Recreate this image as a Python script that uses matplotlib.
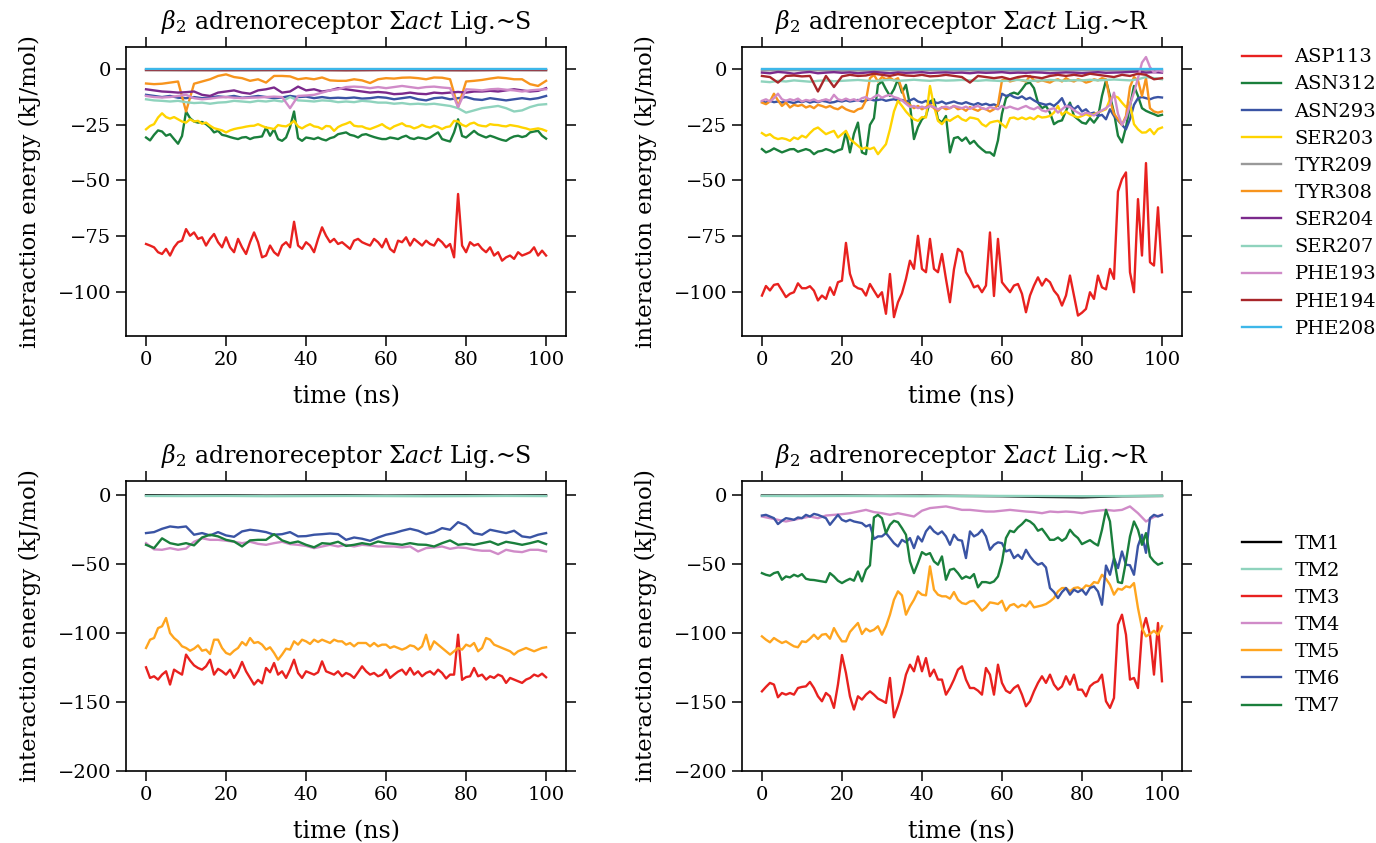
import matplotlib
matplotlib.use("Agg")
import matplotlib.pyplot as plt
import numpy as np

plt.rcParams['font.family'] = ['DejaVu Serif']
plt.rcParams['mathtext.fontset'] = 'dejavuserif'

# sampling grids (ns)
time_1ns = np.arange(0, 101, 1)
time_2ns = np.arange(0, 101, 2)
time_10ns = np.arange(0, 101, 10)

residues = ["ASP113", "ASN312", "ASN293", "SER203", "TYR209", "TYR308",
            "SER204", "SER207", "PHE193", "PHE194", "PHE208"]
residue_colors = ["#e8211f", "#1a7f3c", "#3a54a4", "#ffd400", "#999999", "#f7941d",
                  "#7b2a8c", "#8fd3bd", "#d08bc8", "#a8262a", "#3db7e9"]

helices = ["TM1", "TM2", "TM3", "TM4", "TM5", "TM6", "TM7"]
helix_colors = ["#000000", "#8fd3bd", "#e8211f", "#d08bc8", "#ffa51f", "#3a54a4", "#1a7f3c"]

# ---- ligand S, per residue (kJ/mol) ----
s_asp113 = [-78.6, -79.3, -80.1, -82.3, -83.1, -80.8, -83.8, -80.1, -77.8, -77.1,
            -71.9, -74.9, -73.4, -76.3, -75.6, -79.3, -76.3, -74.1, -77.8, -80.1,
            -75.6, -80.1, -82.3, -76.3, -80.1, -83.1, -77.8, -73.4, -77.8, -84.6,
            -83.8, -79.3, -82.3, -83.8, -79.3, -77.8, -80.1, -68.6, -79.3, -80.8,
            -77.8, -79.3, -82.3, -76.3, -71.1, -74.9, -77.8, -76.3, -78.6, -77.8,
            -79.3, -80.8, -77.1, -76.3, -77.8, -78.6, -79.3, -76.3, -77.8, -80.1,
            -76.3, -80.8, -82.3, -77.1, -77.8, -75.6, -79.3, -76.3, -77.8, -79.3,
            -77.1, -78.6, -79.3, -76.3, -77.8, -80.1, -78.6, -84.6, -56.1, -79.3,
            -82.3, -77.8, -79.3, -78.6, -80.8, -82.3, -80.1, -83.8, -82.3, -86.1,
            -84.6, -83.8, -85.3, -82.3, -83.8, -83.1, -82.3, -80.1, -83.8, -81.6,
            -83.8]
s_asn312 = [-30.7, -32.0, -29.5, -27.5, -28.0, -29.9, -29.2, -31.4, -33.5, -30.0,
            -19.0, -22.0, -23.5, -24.0, -23.7, -24.7, -26.2, -28.4, -27.7, -29.5,
            -29.9, -30.5, -31.0, -31.4, -30.7, -30.5, -31.4, -30.7, -30.5, -30.2,
            -26.2, -29.9, -27.0, -31.4, -32.2, -30.7, -26.0, -19.0, -31.0, -32.2,
            -30.7, -31.0, -31.4, -30.7, -31.5, -32.0, -31.0, -30.5, -29.2, -28.8,
            -28.4, -29.5, -29.9, -30.7, -29.5, -29.2, -29.9, -30.5, -31.0, -31.4,
            -31.4, -30.7, -31.0, -31.4, -30.5, -29.9, -31.0, -31.4, -30.7, -31.0,
            -31.4, -30.7, -29.5, -28.4, -31.4, -32.0, -32.5, -28.4, -22.5, -30.0,
            -30.7, -29.2, -27.7, -29.2, -30.0, -30.7, -29.9, -30.5, -31.2, -31.8,
            -32.2, -31.0, -30.2, -29.9, -30.5, -30.0, -28.4, -28.0, -27.7, -29.9,
            -31.2]
s_asn293 = [-11.5, -12.0, -12.5, -12.0, -12.8, -13.0, -12.5, -13.0, -12.7, -12.2,
            -12.5, -12.0, -12.8, -12.5, -12.0, -12.5, -13.0, -12.7, -12.0, -12.5,
            -12.3, -13.0, -12.5, -13.0, -12.8,
            -13.0, -12.7, -13.2, -13.0, -12.5, -12.8, -13.5, -13.0, -12.5, -13.5,
            -14.0, -13.0, -12.7, -13.5, -13.0, -12.5, -13.5, -13.8, -13.0, -13.5,
            -14.0, -13.5, -13.0, -13.5, -13.0, -12.0]
s_ser203 = [-27.0, -25.5, -24.7, -21.7, -19.8, -21.5, -22.2, -21.5, -22.5, -23.5,
            -24.0, -22.5, -23.5, -23.2, -24.5, -24.0, -25.4, -26.5, -27.0, -27.5,
            -28.4, -27.5, -26.9, -26.5, -26.2, -25.8, -25.5, -25.4, -24.7, -25.5,
            -26.2, -26.5, -26.9, -25.1, -25.5, -25.7, -24.7, -23.2, -25.7, -26.6,
            -25.5, -24.7, -25.7, -26.0, -26.9, -25.5, -25.7, -27.7, -26.0, -25.1,
            -24.5, -23.7, -25.4, -25.7, -25.7, -26.5, -26.9, -26.2, -25.5, -24.7,
            -26.0, -26.9, -25.7, -25.0, -24.3, -25.5, -25.7, -26.6, -26.0, -25.0,
            -25.8, -26.2, -25.4, -26.0, -26.9, -26.0, -25.7, -23.2, -23.5, -25.0,
            -25.7, -24.5, -24.0, -25.1, -25.5, -25.7, -24.7, -25.0, -25.1, -25.5,
            -25.7, -25.1, -25.4, -25.7, -26.2, -26.6, -27.2, -26.9, -26.6, -27.0,
            -27.7]
s_tyr209 = [-0.4, -0.5, -0.4, -0.5, -0.4, -0.5, -0.4, -0.5, -0.5, -0.4, -0.5]
s_tyr308 = [-6.4, -6.7, -6.5, -6.0, -5.5, -19.0, -6.5, -5.5, -4.5, -3.0,
            -2.3, -3.5, -4.0, -5.2, -4.5, -6.0, -3.0, -3.0, -3.2, -4.5,
            -4.0, -4.5, -3.7, -5.0, -5.2,
            -5.2, -4.5, -5.0, -6.2, -4.5, -4.0, -4.2, -3.8, -3.7, -4.0,
            -4.5, -3.7, -3.8, -4.5, -17.0, -5.5, -5.2, -4.8, -4.2, -3.7,
            -4.0, -4.5, -4.5, -6.7, -7.5, -5.2]
s_ser204 = [-9.0, -9.5, -10.0, -10.2, -10.5, -10.3, -10.0, -11.5, -12.0, -10.5,
            -10.0, -9.5, -10.5, -11.0, -9.5, -9.0, -8.2, -10.5, -10.0, -7.8,
            -9.5, -9.0, -10.0, -9.5, -8.5,
            -9.0, -9.5, -10.0, -10.5, -10.2, -10.5, -11.2, -11.0, -10.5, -11.0,
            -11.2, -10.5, -10.8, -10.5, -10.2, -10.5, -10.0, -10.0, -9.7, -10.0,
            -9.5, -9.0, -9.5, -10.0, -9.7, -8.5]
s_ser207 = [-13.5, -14.0, -14.2, -14.5, -14.2, -14.8, -15.2, -15.0, -15.5, -15.0,
            -14.8, -14.2, -14.5, -14.8, -14.2, -14.5, -14.0, -14.5, -12.5, -14.0,
            -14.2, -14.5, -14.0, -14.2, -14.8,
            -14.5, -14.8, -14.2, -14.5, -15.0, -15.0, -15.5, -15.2, -15.7, -15.5,
            -15.8, -15.5, -16.0, -16.5, -17.5, -19.5, -18.5, -17.5, -17.0, -16.5,
            -17.5, -19.0, -18.5, -17.0, -16.0, -15.7]
s_phe193 = [-12.0, -12.5, -12.7, -12.5, -12.0, -11.5, -13.0, -13.5, -13.2, -12.7,
            -12.5, -12.8, -13.0, -12.8, -12.7, -12.5, -12.3, -12.5, -17.5, -12.0,
            -11.8, -11.5, -10.5, -9.5, -9.0,
            -8.0, -7.8, -8.0, -8.5, -8.0, -8.5, -8.0, -7.5, -8.0, -8.5,
            -8.0, -7.8, -8.2, -8.5, -17.0, -9.0, -9.2, -9.5, -9.0, -8.8,
            -9.2, -9.5, -10.0, -9.5, -9.2, -9.0]
s_phe194 = [-0.3, -0.3, -0.4, -0.3, -0.3, -0.4, -0.3, -0.3, -0.4, -0.3, -0.3]
s_phe208 = [0.0, 0.0, 0.0, 0.0, 0.0, 0.0, 0.0, 0.0, 0.0, 0.0, 0.0]

# ---- ligand R, per residue (kJ/mol) ----
r_asp113 = [-101.8, -97.5, -99.5, -97.0, -96.6, -99.5, -102.5, -101.0, -100.3, -96.3,
            -98.5, -98.5, -97.6, -99.6, -104.0, -101.8, -103.3, -98.1, -101.5, -95.8,
            -95.1, -78.1, -92.0, -97.3, -98.5, -99.0, -101.8, -96.6, -99.6, -102.5,
            -100.3, -110.0, -92.1, -111.5, -104.8, -100.8, -94.3, -86.1, -89.8, -74.9,
            -89.8, -91.3, -76.3, -89.8, -91.3, -83.1, -94.3, -104.8, -90.0, -80.8,
            -82.3, -91.3, -94.3, -98.1, -97.3, -100.3, -97.3, -73.4, -102.0, -76.3,
            -95.8, -98.1, -100.3, -97.3, -96.6, -101.0, -109.3, -101.8, -97.3, -93.6,
            -97.3, -94.3, -95.8, -99.6, -101.8, -106.3, -101.8, -92.8, -101.8, -110.8,
            -109.5, -107.8, -100.3, -103.3, -92.8, -98.1, -99.0, -89.8, -94.3, -55.0,
            -49.4, -46.4, -91.3, -100.3, -58.4, -83.8, -42.2, -86.8, -88.3, -62.1,
            -91.3]
r_asn312 = [-35.9, -37.4, -36.7, -35.6, -36.5, -37.4, -36.7, -36.0, -35.9, -37.1,
            -36.5, -35.9, -36.5, -38.2, -37.0, -36.7, -35.9, -36.5, -37.4, -36.5,
            -35.9, -28.0, -37.4, -29.0, -24.0, -37.4, -38.2, -25.0, -22.0, -7.0,
            -5.5, -9.0, -12.0, -9.0, -4.5, -10.5, -7.0, -16.0, -31.4, -26.0,
            -22.5, -21.0, -14.5, -13.5, -22.5, -24.0, -21.0, -37.4, -31.0, -30.5,
            -32.2, -30.7, -33.5, -32.2, -34.4, -36.0, -37.4, -37.4, -38.9, -32.0,
            -20.0, -13.0, -11.2, -10.5, -11.2, -9.0, -6.5, -6.0, -8.5, -15.0,
            -17.5, -16.5, -19.5, -24.7, -23.5, -23.0, -18.7, -15.0, -21.0, -22.5,
            -24.0, -24.5, -22.0, -24.0, -21.5, -12.0, -5.0, -12.0, -19.5, -29.9,
            -32.9, -26.0, -16.5, -7.5, -12.0, -17.5, -18.7, -19.5, -20.2, -21.0,
            -20.5]
r_asn293 = [-14.5, -15.0, -14.2, -14.8, -14.5, -15.0, -14.2, -14.8, -15.2, -14.5,
            -14.8, -14.2, -15.0, -14.5, -14.8, -14.2, -14.5, -15.0, -14.8, -14.2,
            -14.5, -14.0, -14.5, -14.2, -13.8, -14.5, -14.0, -13.5, -14.0, -13.8,
            -13.5, -14.2, -13.8, -13.5, -14.0, -13.8, -14.5, -14.0, -13.2, -14.5,
            -15.0, -14.2, -15.5, -14.8, -15.2, -14.5, -15.5, -15.0, -14.5, -15.2,
            -15.5, -14.8, -15.5, -16.0, -15.2, -16.0, -15.5, -16.2, -15.8, -16.5,
            -11.0, -12.0, -11.5, -12.5, -13.0, -12.2, -13.5, -12.8, -14.0, -15.0,
            -15.5, -16.0, -15.5, -16.5, -15.0, -13.0, -17.0, -16.0, -18.0, -16.5,
            -19.0, -18.0, -20.0, -19.5, -21.0, -20.5, -22.5, -18.0, -21.0, -23.0,
            -25.0, -27.0, -22.5, -16.0, -13.0, -12.5, -13.0, -13.5, -12.8, -12.5,
            -12.7]
r_ser203 = [-28.7, -29.9, -29.2, -30.7, -31.4, -31.0, -31.4, -32.2, -30.7, -31.4,
            -29.9, -30.7, -28.7, -27.0, -26.2, -27.7, -29.2, -28.4, -27.7, -30.7,
            -29.2, -27.7, -31.4, -32.9, -34.4, -35.9, -35.2, -35.9, -35.2, -38.2,
            -35.9, -33.7, -27.0, -19.0, -14.2, -16.5, -19.0, -21.0, -22.5, -23.2,
            -21.5, -21.7, -7.5, -16.5, -23.2, -24.7, -22.5, -23.2, -22.0, -21.0,
            -22.5, -23.2, -21.7, -22.0, -22.5, -24.7, -25.7, -24.0, -23.5, -23.2,
            -24.7, -26.2, -22.0, -21.7, -22.5, -21.7, -22.5, -21.7, -22.5, -21.0,
            -21.7, -21.5, -21.0, -19.5, -16.5, -20.5, -19.0, -20.2, -21.0, -21.7,
            -21.0, -20.2, -21.0, -20.2, -19.5, -18.7, -18.0, -13.5, -12.0, -12.7,
            -15.0, -17.0, -15.5, -24.7, -27.0, -28.5, -28.4, -26.9, -29.2, -26.9,
            -26.2]
r_tyr209 = [-0.5, -0.4, -0.6, -0.5, -0.4, -0.5, -0.6, -0.5, -0.4, -0.5, -0.5]
r_tyr308 = [-15.0, -15.7, -14.5, -11.0, -14.0, -16.5, -15.0, -17.2, -16.0, -16.5,
            -16.0, -17.2, -16.5, -17.5, -16.0, -16.5, -17.2, -16.5, -17.5, -18.0,
            -16.8, -18.0, -18.7, -19.2, -18.0, -17.5, -14.0, -4.0, -2.5, -5.5,
            -3.5, -4.5, -3.8, -5.0, -4.0, -9.0, -15.0, -16.0, -17.5, -16.5,
            -18.0, -17.0, -16.0, -17.5, -18.7, -17.0, -18.0, -17.5, -16.5, -18.0,
            -17.5, -18.7, -17.0, -18.0, -18.7, -17.5, -18.0, -19.0, -18.0, -16.0,
            -5.0, -4.5, -5.5, -5.0, -4.5, -5.0, -5.5, -3.0, -5.0, -5.5,
            -5.0, -5.5, -6.0, -5.0, -4.5, -5.5, -4.0, -5.0, -5.5, -4.5,
            -5.0, -6.0, -5.5, -4.5, -5.0, -4.0, -4.5, -14.0, -20.0, -22.5,
            -25.0, -21.0, -8.0, -3.5, -5.0, -12.0, -4.0, -17.5, -19.0, -19.5,
            -19.0]
r_ser204 = [-1.5, -1.8, -1.2, -1.5, -2.0, -1.5, -1.2, -1.8, -1.5, -1.3,
            -1.6, -1.4, -1.8, -1.5, -1.2, -1.5, -1.8, -1.4, -1.6, -1.5,
            -1.3, -1.7, -1.5, -1.4, -1.6,
            -1.5, -1.8, -1.4, -1.6, -1.5, -1.3, -1.7, -1.5, -1.6, -1.4,
            -1.5, -1.8, -1.6, -1.4, -1.5, -1.7, -1.5, -1.3, -1.6, -1.5,
            -1.4, -1.2, -1.0, -1.5, -1.3, -1.5]
r_ser207 = [-5.5, -5.8, -5.2, -5.5, -5.0, -5.3, -5.6, -5.2, -5.0, -5.4,
            -5.2, -5.0, -4.8, -5.1, -5.3, -5.0, -4.8, -5.2, -5.0, -4.7,
            -5.0, -5.2, -4.9, -5.1, -5.0,
            -4.8, -5.0, -5.2, -4.9, -5.1, -5.3, -5.0, -4.8, -5.1, -5.2,
            -5.0, -4.8, -5.0, -5.2, -4.9, -5.0, -4.7, -5.0, -4.8, -4.6,
            -4.8, -5.0, -4.5, -3.5, -4.0, -4.5]
r_phe193 = [-14.2, -13.5, -14.5, -13.0, -11.0, -13.5, -14.2, -13.5, -14.0, -13.2,
            -14.5, -13.8, -14.2, -13.5, -14.5, -14.0, -13.5, -14.2, -11.5, -13.5,
            -14.0, -13.2, -14.0, -13.5, -14.2, -13.0, -12.5, -13.8, -12.5, -11.5,
            -12.8, -12.0, -11.5, -12.5, -13.0, -14.0, -15.5, -17.0, -16.5, -17.5,
            -16.8, -17.5, -16.5, -17.0, -18.0, -17.2, -16.8, -17.5, -16.5, -17.0,
            -17.5, -16.8, -17.8, -17.0, -16.5, -17.5, -18.0, -17.0, -17.5, -18.0,
            -16.5, -17.5, -16.8, -17.5, -18.0, -17.2, -16.5, -17.5, -18.0, -17.0,
            -18.5, -19.0, -18.0, -17.5, -19.5, -18.0, -16.5, -17.0, -18.5, -19.5,
            -20.5, -19.5, -20.0, -20.8, -19.5, -18.5, -17.5, -16.0, -10.5, -20.0,
            -25.0, -22.0, -16.0, -10.5, -4.0, 3.0, 5.5, 1.0, -1.5, -0.5,
            -1.0]
r_phe194 = [-3.0, -3.5, -6.0, -3.0, -2.8, -3.2, -3.0, -10.0, -3.0, -8.0,
            -3.2, -2.5, -3.0, -2.8, -2.0, -2.5, -3.0, -2.2, -2.8, -3.0,
            -2.5, -3.2, -3.0, -2.5, -3.0,
            -3.5, -6.0, -3.0, -3.5, -4.0, -3.5, -4.5, -3.5, -3.0, -3.5,
            -4.0, -3.0, -2.5, -3.0, -2.5, -3.0, -2.0, -2.5, -3.0, -3.5,
            -2.5, -3.0, -2.0, -2.5, -4.5, -4.0]
r_phe208 = [0.0, 0.0, 0.0, 0.0, 0.0, 0.0, 0.0, 0.0, 0.0, 0.0, 0.0]

# ---- ligand S, per helix (kJ/mol) ----
s_tm1 = [-0.3, -0.5, -0.4, -0.6, -0.5, -0.4, -0.6, -0.5, -0.4, -0.5, -0.4]
s_tm2 = [-0.8, -0.9, -0.8, -1.0, -0.9, -0.8, -0.9, -1.0, -0.9, -0.8, -0.9]
s_tm3 = [-124.9, -132.6, -131.4, -133.8, -130.2, -127.8, -137.4, -126.6, -128.5, -130.2,
         -115.7, -120.0, -123.5, -125.4, -126.6, -124.2, -119.4, -130.2, -126.0, -127.8,
         -130.2, -126.6, -132.6, -128.0, -121.0, -127.8, -132.6, -137.4, -134.0, -136.5,
         -125.4, -128.5, -121.8, -130.2, -127.8, -132.6, -126.6, -119.4, -129.0, -132.6,
         -127.8, -129.0, -130.2, -128.5, -120.6, -127.8, -129.0, -130.2, -127.8, -131.4,
         -129.0, -130.2, -132.6, -128.5, -124.2, -127.8, -130.2, -129.0, -131.4, -130.2,
         -126.6, -132.6, -130.2, -128.0, -126.6, -130.2, -125.4, -130.2, -127.8, -131.4,
         -129.0, -127.8, -130.2, -126.6, -129.0, -133.0, -130.2, -130.2, -101.3, -134.0,
         -132.0, -131.4, -125.4, -131.4, -130.2, -133.8, -131.4, -132.6, -130.2, -131.4,
         -136.2, -132.6, -133.8, -135.0, -136.2, -133.8, -132.6, -130.2, -131.4, -129.5,
         -132.1]
s_tm4 = [-35.0, -39.5, -39.8, -38.6, -39.8, -38.9, -34.0, -31.5, -32.6, -32.6,
         -33.2, -34.0, -35.0, -34.0, -35.5, -36.2, -35.0, -34.0, -35.7, -36.2,
         -37.0, -38.6, -37.4, -36.2, -37.4,
         -36.2, -37.4, -36.2, -36.7, -37.4, -37.4, -37.4, -38.1, -37.4, -41.0,
         -38.6, -38.1, -37.4, -39.1, -38.1, -38.5, -39.8, -40.5, -40.5, -42.9,
         -39.8, -41.0, -41.5, -39.8, -39.8, -41.0]
s_tm5 = [-110.9, -104.9, -103.7, -96.5, -95.2, -89.2, -100.1, -103.7, -106.1, -109.7,
         -110.9, -112.9, -111.4, -109.0, -112.9, -112.1, -115.3, -104.9, -104.9, -110.9,
         -114.5, -115.7, -112.9, -110.9, -106.6, -109.0, -103.7, -107.3, -106.6, -108.5,
         -112.1, -110.4, -114.5, -119.4, -115.7, -111.4, -112.1, -106.1, -108.5, -104.9,
         -106.1, -108.0, -104.9, -106.6, -104.9, -106.1, -107.3, -104.9, -106.1, -106.1,
         -108.5, -107.3, -109.7, -107.3, -107.3, -107.3, -109.7, -107.3, -109.7, -108.5,
         -108.5, -110.9, -109.7, -110.9, -112.1, -110.9, -109.0, -109.7, -112.1, -109.7,
         -101.3, -112.1, -106.1, -108.5, -110.9, -113.3, -115.7, -113.3, -110.9, -112.1,
         -108.5, -109.7, -107.3, -113.3, -110.9, -103.7, -104.9, -108.5, -109.7, -110.9,
         -112.1, -113.3, -115.7, -113.3, -112.1, -110.9, -112.1, -113.3, -112.1, -110.9,
         -110.4]
s_tm6 = [-27.7, -27.0, -24.6, -22.9, -23.6, -22.9, -28.9, -27.7, -29.4, -27.0,
         -29.4, -30.4, -26.5, -25.3, -26.0, -27.0, -28.9, -28.5, -27.0, -30.1,
         -29.9, -28.9, -28.5, -28.0, -28.5,
         -32.6, -30.9, -31.8, -33.3, -30.9, -28.9, -27.7, -26.0, -24.6, -26.0,
         -28.5, -27.0, -24.1, -25.3, -19.8, -22.2, -27.7, -28.9, -25.3, -26.5,
         -27.7, -26.0, -30.1, -30.9, -28.9, -27.7]
s_tm7 = [-36.2, -38.6, -31.5, -35.0, -36.2, -35.0, -36.6, -30.9, -28.9, -30.1,
         -32.6, -33.8, -37.4, -33.0, -32.6, -32.6, -28.5, -33.0, -35.0, -33.8,
         -36.2, -38.0, -35.0, -35.5, -34.0,
         -37.0, -36.2, -35.0, -36.0, -33.8, -35.0, -35.5, -36.2, -35.0, -36.0,
         -36.2, -37.4, -35.0, -33.0, -36.2, -35.5, -36.2, -35.0, -33.8, -36.2,
         -34.0, -35.0, -36.2, -35.0, -33.5, -35.7]

# ---- ligand R, per helix (kJ/mol) ----
r_tm1 = [-0.5, -0.6, -0.5, -0.7, -0.6, -0.8, -1.0, -1.5, -1.8, -1.0, -0.8]
r_tm2 = [-0.8, -0.9, -0.8, -0.9, -1.0, -0.9, -0.8, -0.9, -1.0, -0.9, -0.8]
r_tm3 = [-142.3, -139.1, -136.2, -137.4, -146.6, -143.5, -144.7, -143.5, -144.7, -139.9,
         -139.1, -138.7, -135.5, -139.9, -145.9, -149.5, -143.5, -145.9, -154.3, -137.4,
         -116.0, -129.0, -145.9, -155.5, -145.9, -148.3, -144.7, -142.3, -144.7, -147.6,
         -149.0, -150.7, -132.6, -161.1, -153.1, -143.5, -130.2, -123.0, -127.8, -117.0,
         -127.8, -118.2, -131.4, -126.6, -133.8, -133.8, -144.7, -139.9, -133.8, -126.6,
         -124.2, -133.8, -139.9, -139.9, -141.8, -144.7, -125.4, -130.2, -144.7, -123.0,
         -136.2, -141.8, -143.5, -139.9, -137.9, -144.7, -153.1, -149.5, -142.3, -136.2,
         -131.4, -136.2, -130.2, -137.4, -141.1, -138.7, -131.4, -137.4, -130.2, -141.1,
         -141.1, -145.9, -138.7, -136.2, -135.0, -130.2, -149.5, -154.3, -147.1, -94.0,
         -86.8, -101.3, -133.8, -132.6, -139.9, -98.9, -89.2, -101.3, -130.2, -92.8,
         -135.0]
r_tm4 = [-15.7, -16.9, -18.1, -19.3, -18.1, -16.9, -15.7, -16.9, -15.0, -14.5,
         -14.0, -13.3, -12.1, -10.9, -12.5, -13.3, -14.5, -13.3, -14.5, -15.7,
         -11.5, -9.6, -9.0, -8.4, -9.6,
         -10.9, -10.9, -11.5, -12.1, -12.1, -11.5, -10.9, -11.5, -12.1, -12.5,
         -13.3, -12.1, -12.5, -12.1, -12.5, -13.3, -12.1, -11.5, -10.9, -11.5,
         -10.9, -8.4, -13.3, -19.3, -16.0, -14.5]
r_tm5 = [-102.5, -104.9, -106.8, -103.7, -105.6, -107.3, -106.1, -108.0, -109.7, -110.4,
         -106.1, -106.6, -104.2, -101.3, -104.4, -101.3, -100.8, -104.2, -96.5, -101.8,
         -106.1, -106.1, -99.3, -96.0, -92.8, -100.8, -96.9, -98.9, -97.7, -95.2,
         -101.3, -95.2, -86.8, -76.0, -69.9, -72.8, -86.8, -80.8, -76.0, -69.9,
         -72.3, -72.8, -51.8, -68.7, -72.3, -73.5, -73.5, -75.2, -70.4, -76.0,
         -78.4, -79.1, -77.2, -76.7, -80.1, -83.9, -81.5, -77.9, -78.4, -79.1,
         -76.7, -83.9, -80.1, -79.1, -81.5, -79.6, -80.8, -77.2, -81.5, -80.8,
         -80.1, -79.1, -77.2, -74.8, -69.9, -67.5, -67.5, -69.9, -67.5, -67.0,
         -68.7, -65.6, -66.3, -63.2, -63.9, -57.9, -60.8, -65.1, -72.3, -68.0,
         -68.7, -66.3, -67.0, -63.9, -82.0, -96.5, -102.5, -100.8, -98.4, -101.3,
         -95.2]
r_tm6 = [-15.0, -14.5, -15.7, -16.9, -21.2, -18.8, -16.9, -17.4, -18.1, -16.4,
         -16.9, -14.5, -15.7, -13.8, -14.5, -15.7, -16.9, -21.7, -18.1, -14.5,
         -18.1, -19.3, -18.1, -19.3, -19.9, -20.5, -22.9, -21.7, -32.0, -30.1,
         -30.1, -27.7, -31.3, -35.0, -37.4, -32.6, -34.4, -31.3, -38.6, -30.1,
         -33.8, -26.5, -22.9, -26.5, -28.5, -26.5, -30.1, -36.2, -28.9, -32.6,
         -33.2, -45.8, -26.5, -30.1, -28.5, -25.3, -30.1, -39.8, -36.2, -34.4,
         -35.0, -41.0, -39.8, -45.8, -43.4, -46.4, -39.8, -44.6, -48.2, -50.6,
         -49.4, -52.6, -67.5, -70.4, -74.8, -70.4, -67.5, -72.3, -68.7, -70.4,
         -68.7, -72.3, -67.5, -66.3, -70.0, -79.6, -51.2, -57.9, -45.8, -53.1,
         -41.0, -50.6, -51.0, -57.9, -37.0, -28.9, -42.0, -16.9, -14.5, -15.7,
         -14.5]
r_tm7 = [-56.7, -57.9, -58.6, -56.7, -55.9, -61.5, -59.1, -59.8, -57.9, -59.1,
         -57.4, -60.8, -61.5, -61.7, -62.2, -62.7, -63.2, -56.7, -59.1, -62.2,
         -63.9, -62.2, -60.8, -62.2, -55.5, -62.7, -54.3, -51.1, -16.4, -14.5,
         -16.9, -27.7, -21.7, -18.8, -19.8, -24.1, -28.9, -48.2, -56.7, -49.4,
         -41.5, -43.4, -42.2, -48.2, -50.6, -44.6, -61.5, -54.3, -53.5, -56.7,
         -60.8, -59.1, -60.3, -57.4, -67.0, -63.2, -63.2, -63.9, -62.7, -59.1,
         -48.7, -31.3, -26.0, -27.0, -23.6, -21.2, -18.1, -19.3, -21.7, -26.0,
         -24.6, -28.5, -32.6, -32.6, -30.9, -33.3, -31.3, -25.3, -28.9, -31.3,
         -35.7, -34.2, -32.8, -35.0, -36.7, -25.3, -10.9, -19.3, -45.8, -63.2,
         -63.9, -48.2, -30.1, -19.3, -25.3, -36.2, -27.7, -44.6, -48.2, -50.6,
         -49.4]

s_residue_series = [s_asp113, s_asn312, s_asn293, s_ser203, s_tyr209, s_tyr308,
                    s_ser204, s_ser207, s_phe193, s_phe194, s_phe208]
r_residue_series = [r_asp113, r_asn312, r_asn293, r_ser203, r_tyr209, r_tyr308,
                    r_ser204, r_ser207, r_phe193, r_phe194, r_phe208]
s_helix_series = [s_tm1, s_tm2, s_tm3, s_tm4, s_tm5, s_tm6, s_tm7]
r_helix_series = [r_tm1, r_tm2, r_tm3, r_tm4, r_tm5, r_tm6, r_tm7]


def time_for(values):
    # pick the sampling grid that matches the series length
    return {101: time_1ns, 51: time_2ns, 11: time_10ns}[len(values)]


def draw_panel(ax, series, labels, colors, title, ylim, yticks):
    for values, label, color in zip(series, labels, colors):
        ax.plot(time_for(values), values, color=color, lw=1.7, label=label)
    ax.set_title(title, fontsize=17, pad=13)
    ax.set_xlabel("time (ns)", fontsize=17, labelpad=12)
    ax.set_ylabel("interaction energy (kJ/mol)", fontsize=16.5, labelpad=12)
    ax.set_xlim(-5, 105)
    ax.set_xticks(np.arange(0, 101, 20))
    ax.set_ylim(*ylim)
    ax.set_yticks(yticks)
    ax.tick_params(direction="out", length=7, width=1.1, labelsize=14,
                   top=True, right=True)
    for spine in ax.spines.values():
        spine.set_linewidth(1.2)


fig = plt.figure(figsize=(13.76, 8.43), dpi=100)

ax_tl = fig.add_axes([0.0916, 0.6014, 0.3198, 0.3428])
ax_tr = fig.add_axes([0.5392, 0.6014, 0.3198, 0.3428])
ax_bl = fig.add_axes([0.0916, 0.0854, 0.3198, 0.3440])
ax_br = fig.add_axes([0.5392, 0.0854, 0.3198, 0.3440])

title_s = r"$\beta_2$ adrenoreceptor $\Sigma act$ Lig.~S"
title_r = r"$\beta_2$ adrenoreceptor $\Sigma act$ Lig.~R"
top_ticks = [0, -25, -50, -75, -100]
bottom_ticks = [0, -50, -100, -150, -200]

draw_panel(ax_tl, s_residue_series, residues, residue_colors, title_s, (-120, 10), top_ticks)
draw_panel(ax_tr, r_residue_series, residues, residue_colors, title_r, (-120, 10), top_ticks)
draw_panel(ax_bl, s_helix_series, helices, helix_colors, title_s, (-200, 10), bottom_ticks)
draw_panel(ax_br, r_helix_series, helices, helix_colors, title_r, (-200, 10), bottom_ticks)

h, l = ax_tr.get_legend_handles_labels()
fig.legend(h, l, loc="center left", bbox_to_anchor=(0.9026, 0.771), frameon=False,
           fontsize=14, labelspacing=0.47, handlelength=2.0, handletextpad=0.7,
           borderpad=0, borderaxespad=0)
h, l = ax_br.get_legend_handles_labels()
fig.legend(h, l, loc="center left", bbox_to_anchor=(0.9026, 0.2586), frameon=False,
           fontsize=14, labelspacing=0.47, handlelength=2.0, handletextpad=0.7,
           borderpad=0, borderaxespad=0)

fig.savefig("out.png", dpi=100)
